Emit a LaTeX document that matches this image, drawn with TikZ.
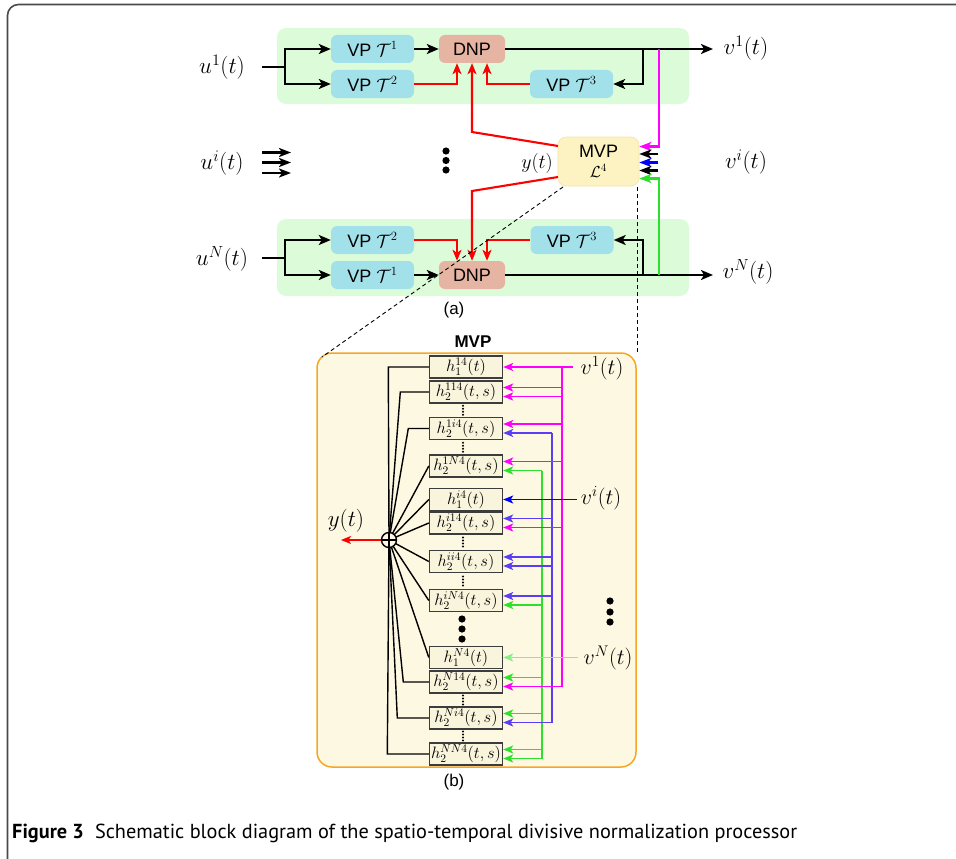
\RequirePackage{fix-cm}
\documentclass[tikz,border=0pt]{standalone}
\usepackage[no-math]{fontspec}
\usepackage{graphicx}
\newfontfamily\lsans{Liberation Sans}
\newfontfamily\capfont{PT Sans}
\usetikzlibrary{arrows.meta,calc}
\definecolor{framec}{HTML}{4A4A4A}
\definecolor{gboxc}{HTML}{DCFCD9}
\definecolor{vpc}{HTML}{A2E1E9}
\definecolor{dnpc}{HTML}{E6B4A2}
\definecolor{mvpc}{HTML}{FDF2C2}
\definecolor{mvpd}{HTML}{F5E3A8}
\definecolor{bfill}{HTML}{FDF8E1}
\definecolor{borange}{HTML}{F6A623}
\definecolor{hfill}{HTML}{F9F4DC}
\definecolor{hdraw}{HTML}{3C3C3C}
\definecolor{mg}{HTML}{FF00FF}
\definecolor{vb}{HTML}{5B3DF5}
\definecolor{bb}{HTML}{0000FF}
\definecolor{gg}{HTML}{2EE02E}
\definecolor{lg}{HTML}{88EE88}
\definecolor{rr}{HTML}{FF0000}
\begin{document}
\begin{tikzpicture}[x=1pt,y=-1pt,
 vpbox/.style={rectangle,rounded corners=6pt,fill=vpc,minimum width=83pt,minimum height=28pt,inner sep=0pt,font=\lsans\fontsize{18}{20}\selectfont},
 dnpbox/.style={vpbox,fill=dnpc,minimum width=66pt},
 gbox/.style={rectangle,rounded corners=9pt,fill=gboxc,inner sep=0pt},
 lab/.style={inner sep=0pt,font=\fontsize{23}{26}\selectfont},
 blab/.style={inner sep=0pt,font=\fontsize{22}{24}\selectfont},
 bk/.style={line width=2.1pt,black},
 bka/.style={bk,-{Stealth[length=12pt,width=10pt,inset=3pt]}},
 rda/.style={line width=2.1pt,rr,-{Stealth[length=11pt,width=9pt,inset=3pt]}},
 sarr/.style={line width=2.1pt,-{Stealth[length=12pt,width=9pt,inset=3pt]}},
 dsh/.style={line width=0.9pt,dash pattern=on 4pt off 3pt},
 hbox/.style={rectangle,draw=hdraw,line width=1.4pt,fill=hfill,minimum width=73pt,minimum height=22pt,inner sep=0pt,font=\fontsize{16.5}{17}\selectfont},
 hline/.style={line width=1.4pt},
 harr/.style={line width=1.4pt,-{Stealth[length=10pt,width=8pt,inset=2.5pt]}},
 sanslab/.style={inner sep=0pt,font=\lsans\fontsize{17}{17}\selectfont},
]
\useasboundingbox (0,0) rectangle (956,859);
\begin{scope}
\clip (0,0) rectangle (956,859);
\draw[framec,line width=1.6pt,rounded corners=11pt] (7.5,4.5) rectangle (1000,900);
\end{scope}

% ---------- (a) top row
\node[gbox,minimum width=412pt,minimum height=76pt] (ga) at (483,66) {};
\node[gbox,minimum width=412pt,minimum height=77pt] (gb) at (483,257.5) {};

\node[vpbox] (t1a) at (372.5,49) {VP\hspace{5pt}$\mathcal{T}^1$};
\node[vpbox] (t2a) at (372.5,84) {VP\hspace{5pt}$\mathcal{T}^2$};
\node[dnpbox] (da) at (472,49) {DNP};
\node[vpbox] (t3a) at (571.5,84) {VP\hspace{5pt}$\mathcal{T}^3$};

\node[lab] (u1) at (222,67) {$u^1(t)$};
\coordinate (u1s) at (262,67);
\coordinate (u1f) at (285,67);
\draw[bk] (u1s) -- (u1f);
\draw[bka] (u1f) |- (t1a.west);
\draw[bka] (u1f) |- (t2a.west);
\draw[bka] (t1a) -- (da);
\coordinate (o1e) at (713,49);
\draw[bka] (da.east) -- (o1e);
\node[lab] (v1) at (746,48) {$v^1(t)$};
\coordinate (fb1) at (643,49);
\draw[bka] (fb1) |- (t3a.east);
\draw[rda] (t2a.east) -| ([xshift=-15pt]da.south);
\draw[rda] (t3a.west) -| ([xshift=15pt]da.south);

% ---------- (a) bottom row
\node[vpbox] (t2b) at (372.5,240) {VP\hspace{5pt}$\mathcal{T}^2$};
\node[vpbox] (t1b) at (372.5,275) {VP\hspace{5pt}$\mathcal{T}^1$};
\node[dnpbox] (db) at (472,275) {DNP};
\node[vpbox] (t3b) at (572,240) {VP\hspace{5pt}$\mathcal{T}^3$};

\node[lab] (uN) at (222,259) {$u^N(t)$};
\coordinate (uNs) at (262,258);
\coordinate (uNf) at (285,258);
\draw[bk] (uNs) -- (uNf);
\draw[bka] (uNf) |- (t2b.west);
\draw[bka] (uNf) |- (t1b.west);
\draw[bka] (t1b) -- (db);
\coordinate (oNe) at (713,275);
\draw[bka] (db.east) -- (oNe);
\node[lab] (vN) at (748,272) {$v^N(t)$};
\coordinate (fbN) at (643,275);
\draw[bka] (fbN) |- (t3b.east);
\draw[rda] (t2b.east) -| ([xshift=-15pt]db.north);
\draw[rda] (t3b.west) -| ([xshift=15pt]db.north);

% ---------- (a) middle row
\node[rectangle,rounded corners=8pt,fill=mvpc,draw=mvpd,line width=0.6pt,minimum width=81pt,minimum height=49pt,inner sep=0pt,align=center,font=\fontsize{18}{20}\selectfont] (mvp) at (598.5,161.5) {{\lsans MVP}\\{\fontsize{16}{16}\selectfont$\mathcal{L}^4$}};

\coordinate (mr1) at (558,146);
\coordinate (mk1) at (472,132);
\draw[rda] (mr1) -- (mk1) -- (da.south);
\coordinate (mr2) at (558,177);
\coordinate (mk2) at (472,191);
\draw[rda] (mr2) -- (mk2) -- (db.north);

\coordinate (mtop) at (659,49);
\draw[sarr,mg] (mtop) |- ([yshift=15pt]mvp.east);
\draw[sarr] ([xshift=19pt,yshift=7.5pt]mvp.east) -- ([yshift=7.5pt]mvp.east);
\draw[sarr,bb] ([xshift=19pt,yshift=-1pt]mvp.east) -- ([yshift=-1pt]mvp.east);
\draw[sarr] ([xshift=19pt,yshift=-9pt]mvp.east) -- ([yshift=-9pt]mvp.east);
\coordinate (gbot) at (659,275);
\draw[sarr,gg] (gbot) |- ([yshift=-17pt]mvp.east);

\node[lab] (ui) at (222,163) {$u^i(t)$};
\foreach \yy/\nm in {152.5/a,162.5/b,173/c}{
  \coordinate (uis\nm) at (262,\yy);
  \coordinate (uie\nm) at (291,\yy);
  \draw[sarr] (uis\nm) -- (uie\nm);
}
\foreach \yy in {151,160.5,170} \fill (446,\yy) circle (3.6);
\node[font=\fontsize{20}{22}\selectfont,inner sep=0pt] (yt) at (537,163) {$y(t)$};
\node[lab] (vi) at (746,162) {$v^i(t)$};

\node[sanslab] (la) at (454,310) {(a)};

% ---------- (b)
\node[rectangle,rounded corners=15pt,draw=borange,line width=1.5pt,fill=bfill,minimum width=319pt,minimum height=414pt,inner sep=0pt] (bbox) at (476.5,560) {};
\node[inner sep=0pt,font=\lsans\bfseries\fontsize{17}{17}\selectfont] (btitle) at (473,342) {MVP};

\node[hbox] (h1) at (466,367) {$h_1^{14}(t)$};
\node[hbox] (h2) at (466,392) {$h_2^{114}(t,s)$};
\node[hbox] (h3) at (466,428.5) {$h_2^{1i4}(t,s)$};
\node[hbox] (h4) at (466,466) {$h_2^{1N4}(t,s)$};
\node[hbox] (h5) at (466,499.5) {$h_1^{i4}(t)$};
\node[hbox] (h6) at (466,523) {$h_2^{i14}(t,s)$};
\node[hbox] (h7) at (466,561.5) {$h_2^{ii4}(t,s)$};
\node[hbox] (h8) at (466,600.5) {$h_2^{iN4}(t,s)$};
\node[hbox] (h9) at (466,657.5) {$h_1^{N4}(t)$};
\node[hbox] (h10) at (466,682) {$h_2^{N14}(t,s)$};
\node[hbox] (h11) at (466,718) {$h_2^{Ni4}(t,s)$};
\node[hbox] (h12) at (466,754) {$h_2^{NN4}(t,s)$};

\foreach \m in {410.25,447.25,542,581,700,736}
  \foreach \k in {-4.5,-1.5,1.5,4.5}
    \fill (463,\m+\k) circle (1.2);
\foreach \yy in {619,629,639} \fill (462,\yy) circle (3.6);
\foreach \yy in {601,612,622} \fill (610,\yy) circle (3.6);

% left side to sum
\coordinate (sc) at (389,540);
\foreach \n/\dx in {1/40.5,2/28.5,3/20.5,10/25.5,11/31.5,12/41.5}
  \draw[hline] (h\n.west) -- ++(-\dx,0) -- (sc);
\foreach \n in {4,5,6,7,8,9}
  \draw[hline] (h\n.west) -- (sc);
\node[circle,draw,line width=1.4pt,fill=bfill,minimum size=15pt,inner sep=0pt] (sum) at (sc) {};
\draw[line width=1.3pt] (sum.north) -- (sum.south) (sum.west) -- (sum.east);
\coordinate (yend) at (341,540);
\draw[harr,rr] (sum.west) -- (yend);
\node[lab] (ytb) at (346,521) {$y(t)$};

% right side buses
\coordinate (mbus) at (562,0);
\coordinate (vbus) at (552,0);
\coordinate (gbus) at (542,0);
\coordinate (mb1) at (562,367);
\coordinate (mb2) at (562,686.5);
\coordinate (vb1) at (552,433);
\coordinate (vb2) at (552,722.5);
\coordinate (gb1) at (542,470.5);
\coordinate (gb2) at (542,758.5);
\draw[hline,gg] (gb1) -- (gb2);
\draw[hline,vb] (vb1) -- (vb2);
\draw[hline,mg] (mb1) -- (mb2);
\foreach \n/\dy/\c/\bus in {
  2/4.5/mg/mbus, 2/-4.5/mg/mbus, 3/4.5/mg/mbus, 3/-4.5/vb/vbus,
  4/4.5/mg/mbus, 4/-4.5/gg/gbus, 6/4.5/vb/vbus, 6/-4.5/mg/mbus,
  7/4.5/vb/vbus, 7/-4.5/vb/vbus, 8/4.5/vb/vbus, 8/-4.5/gg/gbus,
  10/4.5/gg/gbus, 10/-4.5/mg/mbus, 11/4.5/gg/gbus, 11/-4.5/vb/vbus,
  12/4.5/gg/gbus, 12/-4.5/gg/gbus}{
  \coordinate (tmp) at ([yshift=\dy pt]h\n.east);
  \draw[harr,\c] (tmp -| \bus) -- (tmp);
}
\coordinate (v1s) at (573,367);
\draw[harr,mg] (v1s) -- (h1.east);
\coordinate (vis) at (577,499.5);
\draw[harr,bb] (vis) -- (h5.east);
\coordinate (vNs) at (578,657.5);
\draw[harr,lg] (vNs) -- (h9.east);
\node[blab] (v1b) at (602,368) {$v^1(t)$};
\node[blab] (vib) at (601,498) {$v^i(t)$};
\node[blab] (vNb) at (608,658) {$v^N(t)$};

\node[sanslab] (lb) at (454,782) {(b)};

% dashed zoom lines
\coordinate (dA) at (563,187);
\coordinate (dB) at (637,187);
\coordinate (dC) at (322,357);
\coordinate (dD) at (637,353);
\draw[dsh] (dA) -- (dC);
\draw[dsh] (dB) -- (dD);

% caption
\node[anchor=base west,inner sep=0pt] (cap) at (12,838) {\resizebox{785pt}{!}{\capfont\fontsize{18}{20}\selectfont\textbf{Figure 3}\hspace{0.55em}Schematic block diagram of the spatio-temporal divisive normalization processor}};
\end{tikzpicture}
\end{document}
